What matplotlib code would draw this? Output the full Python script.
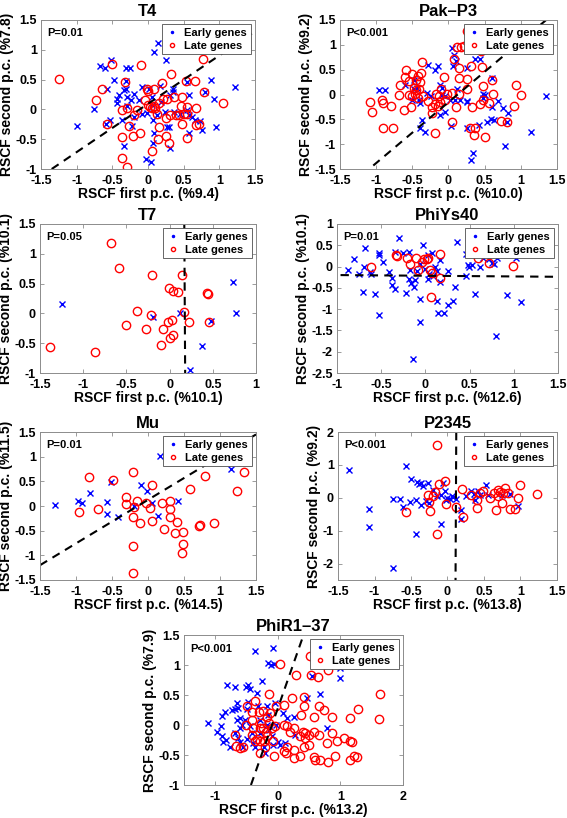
#%% Import packages
import matplotlib
matplotlib.use('Agg')
from matplotlib import pyplot as plt
from matplotlib.lines import Line2D
from matplotlib.ticker import FuncFormatter

plt.rcParams['font.family'] = ['Liberation Sans', 'DejaVu Sans']
plt.rcParams['font.weight'] = 'bold'
plt.rcParams['axes.unicode_minus'] = False

#%% Data
# T4
t4_early_x = [0.14, 0.08, 0.25, -0.67, -0.6, -0.52, -0.31, -0.25, -0.47, -0.31, -0.57, -0.31, -0.33, -0.41, -0.43,
              -0.43, -0.30, -0.19, -0.24, -0.08, 0.02, 0.17, 0.35, 0.35, 0.55, 0.89, 1.22, 0.57, 0.80, 0.92, -0.76,
              -0.99, -0.59, -0.53, -0.37, -0.29, -0.12, -0.09, -0.02, 0.05, 0.05, 0.07, 0.12, 0.24, 0.26, 0.29, 0.36,
              0.45, 0.54, 0.58, 0.61, 0.66, 0.73, 0.75, 0.96, 0.57, 0.08, 0.07, 0.31, -0.34, -0.03, 0.04, -0.23,
              -0.20, 0.18, 0.31]
t4_early_y = [1.12, 0.97, 0.83, 0.73, 0.69, 0.83, 0.69, 0.70, 0.49, 0.47, 0.35, 0.35, 0.32, 0.24, 0.17,
              0.10, 0.21, 0.26, 0.15, 0.38, 0.35, 0.39, 0.34, 0.30, 0.46, 0.49, 0.38, 0.24, 0.30, 0.17, 0.0,
              -0.28, -0.24, -0.18, -0.18, 0.06, 0.16, -0.07, -0.06, 0.20, 0.07, -0.18, -0.10, -0.04, -0.29, -0.29, -0.04,
              -0.07, -0.01, -0.10, -0.13, -0.18, -0.19, -0.34, -0.29, -0.40, -0.40, -0.57, -0.64, -0.61, -0.84, -0.89, -0.28,
              -0.13, 0.13, 0.24]
t4_late_x = [-1.25, -0.51, -0.10, 0.77, -0.64, -0.73, -0.32, 0.32, 0.19, 0.53, 0.66, 0.79, 1.05, -0.02, 0.0,
             0.08, -0.30, -0.37, -0.20, -0.16, -0.04, 0.0, 0.03, 0.05, 0.08, 0.10, 0.15, 0.21, 0.26, 0.36,
             0.47, 0.12, 0.25, 0.31, 0.39, 0.44, 0.50, 0.54, 0.46, 0.54, 0.67, 0.47, 0.67, 0.71, -0.57,
             -0.27, -0.37, -0.21, -0.11, 0.15, 0.14, 0.25, 0.30, 0.54, -0.37, -0.29, 0.05]
t4_late_y = [0.51, 0.76, 0.74, 0.84, 0.34, 0.16, 0.46, 0.59, 0.44, 0.48, 0.48, 0.29, 0.11, 0.35, 0.31,
             0.34, 0.02, -0.01, -0.10, -0.01, 0.16, 0.07, 0.04, 0.03, 0.06, 0.03, 0.10, 0.17, 0.17, 0.20,
             0.21, -0.08, -0.15, -0.10, -0.10, -0.10, -0.08, -0.08, 0.06, 0.04, 0.02, -0.25, -0.26, -0.25, -0.24,
             -0.28, -0.46, -0.44, -0.39, -0.29, -0.49, -0.45, -0.57, -0.48, -0.82, -0.97, -0.69]
t4_line = ([-1.35, 1.5], [-1.0, 1.31])

# Pak-P3
pak_early_x = [0.05, 0.08, 0.11, 0.36, 0.43, 0.60, 0.06, 0.12, 0.25, -0.29, -0.14, -0.18, -0.48, -0.60, -0.44,
               -0.48, -0.96, -0.88, -0.30, -0.12, -0.09, -0.09, -0.51, -0.41, -0.39, -0.24, -0.05, 0.02, -0.12,
               -0.05, 0.09, 0.16, 0.25, 0.26, 0.48, 0.48, 0.50, 0.60, 0.68, 0.75, 0.82, 0.53, 0.59, 0.63, 0.81,
               -0.36, -0.39, -0.33, 0.04, 0.25, 0.42, 0.78, 1.14, 1.35, 0.34, 0.31]
pak_early_y = [0.94, 0.80, 0.67, 0.71, 0.71, 0.34, 0.57, 0.12, 0.53, 0.59, 0.58, 0.49, 0.29, 0.19, 0.14,
               0.12, 0.09, 0.09, 0.04, 0.19, 0.14, -0.01, -0.11, -0.11, -0.18, -0.04, -0.04, -0.11, -0.41,
               -0.35, -0.11, -0.11, -0.14, -0.16, 0.02, -0.08, -0.02, -0.26, -0.14, -0.28, -0.38, -0.56, -0.50, -0.51, -0.55,
               -0.51, -0.68, -0.76, -0.63, -0.67, -0.61, -1.03, -0.75, -0.03, -1.18, -1.32]
pak_late_x = [0.25, 0.12, 0.17, 0.21, 0.45, 0.07, -0.36, 0.14, 0.31, 0.47, -0.59, -0.51, -0.38, -0.60, -0.55,
              -0.45, -0.42, -0.40, -0.06, 0.14, 0.26, -0.67, -0.48, -0.45, -0.41, -0.11, 0.48, 0.60, 0.93,
              0.25, -0.68, -0.55, -0.51, -0.46, -0.42, -0.35, -0.17, -0.13, -0.02, 0.05, 0.15, 0.62, 1.0,
              -1.08, -1.06, -0.92, -0.90, -0.79, -0.62, -0.52, -0.28, -0.23, -0.19, -0.15, -0.12, -0.05, -0.23,
              0.10, 0.32, 0.43, 0.48, 0.56, 0.73, 0.81, 0.90, -0.90, -0.77, -0.18, 0.05, 0.30, 0.37, 0.35, 0.50]
pak_late_y = [1.27, 0.96, 0.95, 0.97, 0.88, 0.71, 0.65, 0.53, 0.58, 0.56, 0.49, 0.41, 0.44, 0.35, 0.27,
              0.29, 0.37, 0.26, 0.35, 0.34, 0.31, 0.19, 0.14, 0.09, 0.12, 0.12, 0.17, 0.29, 0.19,
              0.12, 0.0, 0.0, -0.04, 0.02, -0.08, -0.04, 0.01, -0.04, 0.01, 0.04, 0.02, 0.02, -0.01,
              -0.16, -0.36, -0.11, -0.18, -0.23, -0.31, -0.25, -0.14, -0.25, -0.20, -0.23, -0.16, -0.11, -0.38,
              -0.25, -0.26, -0.20, -0.12, -0.18, -0.53, -0.56, -0.23, -0.67, -0.68, -0.78, -0.55, -0.68, -0.68, -0.81, -0.85]
pak_line = ([-1.04, 1.35], [-1.43, 1.5])

# T7
t7_early_x = [-1.25, -0.19, 0.12, 0.73, 0.77, 0.48, 0.38, 0.24]
t7_early_y = [0.16, -0.06, 0.01, 0.52, 0.01, -0.13, -0.54, -0.95]
t7_late_x = [-1.39, -0.86, -0.68, -0.59, -0.20, -0.38, -0.51, -0.27, -0.22, -0.10, -0.08, -0.01, 0.04, 0.10,
             -0.02, 0.03, 0.04, 0.0, 0.14, 0.17, 0.22, 0.43, 0.44, 0.46]
t7_late_y = [-0.56, -0.65, 1.18, 0.77, 0.65, 0.04, -0.19, -0.26, -0.03, -0.53, -0.27, 0.43, 0.37, 0.36,
             -0.14, -0.11, -0.37, -0.41, 0.64, 0.03, -0.14, 0.34, 0.32, -0.14]
t7_line = ([0.17, 0.18], [1.5, -1.0])

# PhiYs40
ys_early_x = [-0.88, -0.81, -0.68, -0.70, -0.75, -0.63, -0.61, -0.71, -0.57, -0.53, -0.52, -0.48, -0.53, -0.30,
              -0.34, -0.25, -0.41, -0.38, -0.38, -0.34, -0.22, -0.19, -0.16, -0.13, -0.12, -0.17, -0.06, -0.06,
              -0.14, -0.03, -0.06, -0.09, 0.0, 0.03, 0.04, 0.09, 0.11, 0.13, 0.16, 0.16, 0.13, 0.14, 0.21, 0.25,
              0.26, 0.31, 0.34, 0.36, 0.46, 0.46, 0.48, 0.49, 0.53, 0.49, 0.56, 0.62, 0.65, 0.72, 0.75, 0.78,
              0.81, 0.80, 0.92, 1.02, 1.08, 0.03, 0.08, -0.19, 0.58]
ys_early_y = [-0.09, 0.17, 0.43, -0.02, -0.17, -0.12, -0.17, -0.59, -0.64, -1.13, 0.31, 0.11, 0.28, 0.67,
              0.35, 0.31, -0.13, -0.26, -0.44, -0.52, -0.63, -0.30, -0.38, -0.47, -0.32, -0.08, -0.76, -1.30,
              -2.17, 0.50, 0.06, -0.10, -0.06, -0.30, -0.18, -0.22, -0.02, -0.10, 0.16, -0.36, -0.81, -1.10, -1.09, -0.91,
              -0.10, -0.80, -0.47, 0.57, -0.22, 0.29, 0.04, 0.65, 0.03, -0.02, -0.64, 0.0, 0.21, 0.17, 0.08, 0.06,
              0.21, -1.64, -0.67, 0.20, -0.83, 0.27, 0.33, 0.35, 0.46]
ys_late_x = [-0.62, -0.33, -0.32, -0.21, -0.17, -0.11, -0.08, -0.04, -0.02, 0.02, 0.03, 0.05, 0.07, 0.16,
             0.16, 0.06, 0.60, 0.72, 0.99]
ys_late_y = [-0.02, 0.27, 0.24, 0.21, 0.06, 0.20, -0.09, 0.11, 0.17, 0.17, 0.21, -0.08, -0.16, 0.29,
             -0.28, -0.71, 0.19, 0.09, 0.02]
ys_line = ([-0.96, 1.5], [-0.20, -0.24])

# Mu
mu_early_x = [-1.29, -0.97, -0.92, -0.81, -0.57, -0.57, -0.51, -0.41, -0.19, -0.10, -0.02, 0.06, 0.14, 0.17,
              0.41, 1.15]
mu_early_y = [0.03, 0.10, 0.07, 0.27, 0.08, -0.16, 0.48, -0.22, 0.0, 0.43, 0.30, 0.06, -0.21, 1.01,
              0.10, 0.76]
mu_late_x = [-0.96, -0.82, -0.69, -0.48, -0.30, -0.30, -0.21, -0.20, -0.21, -0.21, -0.21, -0.15, -0.11, -0.03,
             0.03, 0.05, 0.05, 0.19, 0.22, 0.30, 0.31, 0.30, 0.40, 0.38, 0.49, 0.49, 0.47, 0.58, 0.72, 0.71,
             0.79, 0.92, 1.23, 1.33]
mu_late_y = [-0.12, 0.58, -0.06, 0.52, 0.19, 0.04, 0.69, -0.03, -0.22, -0.81, -1.35, 0.10, -0.34, 0.07,
             -0.04, 0.42, -0.31, 0.06, -0.47, 0.10, -0.07, -0.23, -0.33, -0.54, -0.52, -0.77, -0.96, 0.34, -0.39, -0.41,
             0.60, -0.35, 0.31, 0.68]
mu_line = ([-1.5, 1.5], [-1.2, 1.45])

# P2345
p23_early_x = [-1.35, -1.08, -1.08, -0.74, -0.74, -0.65, -0.61, -0.57, -0.50, -0.52, -0.43, -0.43, -0.42, -0.39,
               -0.36, -0.34, -0.27, -0.36, -0.29, -0.25, -0.20, -0.14, -0.09, -0.09, -0.06, -0.03, -0.02, 0.0,
               0.04, 0.06, 0.08, 0.11, 0.18, 0.19, 0.25, 0.32, 0.36, 0.38, 0.42, 0.45, 0.53, 0.55, 0.75, 0.85, 0.96]
p23_early_y = [0.85, -0.34, -0.89, -2.14, -0.04, -0.03, -0.28, 0.98, 0.58, -0.14, -0.06, -1.10, 0.47, 0.43,
               0.45, 0.37, 0.45, -0.21, -0.09, -0.16, 0.24, 0.06, -0.79, 0.09, 0.45, 0.22, -0.08, -0.01,
               -0.03, 0.04, 0.01, -0.03, -0.37, -0.65, 0.04, 0.22, 0.11, -0.06, 0.22, 0.09, 0.38, 0.09, 0.09, 0.12, -0.24]
p23_late_x = [-0.14, -0.03, -0.11, -0.17, -0.20, -0.27, -0.25, -0.24, -0.57, -0.15, -0.02, 0.11, 0.20, 0.21,
              0.32, 0.41, 0.41, 0.44, 0.49, 0.58, 0.64, 0.69, 0.69, 0.72, 0.76, 0.79, 0.83, 0.85, 0.93, 0.97,
              0.99, 0.75, 0.67, 1.22]
p23_late_y = [1.60, 0.50, 0.43, 0.17, 0.06, 0.09, -0.14, -0.39, -0.42, -1.11, -0.18, -0.28, 0.27, -0.57,
              0.09, -0.06, -0.32, 0.16, 0.22, -0.01, 0.14, 0.06, 0.24, 0.19, 0.14, 0.29, 0.16, -0.35, -0.34, -0.01,
              0.40, -0.16, -0.37, 0.12]
p23_line = ([0.12, 0.11], [2.0, -2.5])

# PhiR1-37
phr_early_x = [-1.11, -0.89, -0.85, -0.82, -0.69, -0.91, -0.98, -0.89, -0.83, -0.88, -0.77, -0.68, -0.65, -0.64,
               -0.61, -0.61, -0.58, -0.64, -0.60, -0.56, -0.51, -0.47, -0.44, -0.49, -0.48, -0.52, -0.45, -0.42,
               -0.50, -0.40, -0.37, -0.37, -0.34, -0.32, -0.29, -0.29, -0.25, -0.22, -0.21, -0.18, -0.16, -0.11,
               -0.15, -0.18, -0.14, -0.10, -0.07, -0.06, -0.05, -0.07, -0.03, 0.0, 0.03, 0.11, 0.09, 0.14, 0.26,
               0.28, 0.47, 0.54, 0.68, 0.79, 0.99, 1.0, -0.69, -0.74, -0.66]
phr_early_y = [0.03, 0.15, 0.22, 0.67, 0.63, -0.02, -0.11, -0.19, -0.25, -0.28, -0.36, 0.27, 0.37, 0.28,
               0.11, -0.05, 0.0, -0.22, -0.29, -0.36, 0.63, 0.67, 0.60, 0.26, 0.39, 0.09, -0.02, -0.13,
               -0.24, -0.30, -0.36, 1.23, 0.53, 0.31, 0.09, -0.13, 0.73, -0.36, -0.47, 0.0, 1.04, 1.0,
               0.17, 0.31, -0.08, -0.19, 1.29, 1.01, 0.37, -0.33, 0.0, -0.28, -0.33, -0.30, 0.20, 0.11, 0.14,
               -0.16, 0.45, 0.82, 0.51, -0.05, 0.95, 0.79, -0.14, 0.25, 0.09]
phr_late_x = [0.03, 0.29, 0.51, 0.53, 0.64, 0.80, 1.63, 1.61, 1.28, 1.16, 0.87, -0.14, -0.36, -0.49, 0.22,
              0.41, 0.42, 0.10, -0.03, 0.65, 0.73, 0.37, 0.57, -0.41, -0.30, -0.23, -0.12, -0.41, -0.27, -0.24,
              -0.14, -0.05, 0.10, 0.14, 0.20, 0.25, 0.40, 0.44, 0.49, 0.57, 0.65, 0.87, 0.36, 0.43, 0.49, 0.41,
              0.79, 0.95, 1.05, 1.16, 1.18, 1.22, 0.92, 1.16, 1.26, 0.57, 0.60, 0.68, 0.80, 0.36, 0.25, 0.25,
              0.14, 0.10, 0.13, -0.06, -0.21, -0.28, -0.68, -0.67, -0.61, -0.56, -0.42, -0.37, -0.34, -0.29,
              -0.22, -0.18, -0.07, -0.10, -0.19, -0.29, -0.40, -0.18, -0.51]
phr_late_y = [1.01, 0.84, 1.15, 0.84, 0.80, 0.91, 0.52, 0.10, 0.27, 0.11, 0.14, 0.51, 0.40, 0.31, 0.45,
              0.46, 0.31, 0.34, 0.31, 0.31, 0.25, 0.17, 0.14, 0.21, 0.21, 0.24, 0.20, 0.09, 0.03, -0.05,
              0.03, -0.01, 0.0, -0.02, -0.11, -0.05, -0.11, -0.14, -0.16, -0.11, -0.16, -0.14, -0.19, -0.22, -0.33, -0.36,
              -0.30, -0.27, -0.22, -0.26, -0.29, -0.51, -0.51, -0.59, -0.53, -0.53, -0.58, -0.58, -0.62, -0.52, -0.55, -0.42,
              -0.36, -0.44, -0.46, -0.52, -0.36, -0.46, -0.16, -0.35, -0.38, -0.36, -0.16, -0.27, -0.24, -0.27,
              -0.27, -0.19, -0.26, -0.05, -0.11, -0.05, -0.05, 0.14, 0.0]
phr_line = ([-0.43, 0.41], [-1.0, 1.5])

#%% Panel settings: name, data, p-value, limits, ticks, axis labels, position (px: left, top, right, bottom)
panels = [
    ('T4', t4_early_x, t4_early_y, t4_late_x, t4_late_y, t4_line, 'P=0.01',
     (-1.5, 1.5), (-1, 1.5), [-1.5, -1, -0.5, 0, 0.5, 1, 1.5], [-1, -0.5, 0, 0.5, 1, 1.5],
     '9.4', '7.8', (41, 20, 255, 169)),
    ('Pak\u2013P3', pak_early_x, pak_early_y, pak_late_x, pak_late_y, pak_line, 'P<0.001',
     (-1.5, 1.5), (-1.5, 1.5), [-1.5, -1, -0.5, 0, 0.5, 1, 1.5], [-1.5, -1, -0.5, 0, 0.5, 1, 1.5],
     '10.0', '9.2', (340, 20, 557, 169)),
    ('T7', t7_early_x, t7_early_y, t7_late_x, t7_late_y, t7_line, 'P=0.05',
     (-1.5, 1), (-1, 1.5), [-1.5, -1, -0.5, 0, 0.5, 1], [-1, -0.5, 0, 0.5, 1, 1.5],
     '10.1', '10.1', (40, 224, 256, 373)),
    ('PhiYs40', ys_early_x, ys_early_y, ys_late_x, ys_late_y, ys_line, 'P=0.01',
     (-1, 1.5), (-2.5, 1), [-1, -0.5, 0, 0.5, 1, 1.5], [-2.5, -2, -1.5, -1, -0.5, 0, 0.5, 1],
     '12.6', '10.1', (337, 224, 558, 373)),
    ('Mu', mu_early_x, mu_early_y, mu_late_x, mu_late_y, mu_line, 'P=0.01',
     (-1.5, 1.5), (-1.5, 1.5), [-1.5, -1, -0.5, 0, 0.5, 1, 1.5], [-1.5, -1, -0.5, 0, 0.5, 1, 1.5],
     '14.5', '11.5', (40, 432, 256, 580)),
    ('P2345', p23_early_x, p23_early_y, p23_late_x, p23_late_y, p23_line, 'P<0.001',
     (-1.5, 1.5), (-2.5, 2), [-1.5, -1, -0.5, 0, 0.5, 1, 1.5], [-2, -1, 0, 1, 2],
     '13.8', '9.2', (338, 432, 557, 580)),
    ('PhiR1\u201337', phr_early_x, phr_early_y, phr_late_x, phr_late_y, phr_line, 'P<0.001',
     (-1.5, 2), (-1, 1.5), [-1, 0, 1, 2], [-1, -0.5, 0, 0.5, 1, 1.5],
     '13.2', '7.9', (184, 635, 403, 785)),
]

#%% Make Plots
W, H = 567, 818
fig = plt.figure(figsize=(W / 100, H / 100), dpi=100)
fmt = FuncFormatter(lambda v, p: '%g' % v)

for (name, ex, ey, lx, ly, line, ptxt, xlim, ylim, xt, yt, xpc, ypc, pos) in panels:
    l, t, r, b = pos
    ax = fig.add_axes([l / W, 1 - b / H, (r - l) / W, (b - t) / H])
    ax.plot(ex, ey, 'x', color='blue', markersize=3.8, markeredgewidth=1.0, linestyle='none')
    ax.plot(lx, ly, 'o', color='red', markerfacecolor='none', markersize=6, markeredgewidth=1.0, linestyle='none')
    ax.plot(line[0], line[1], '--', color='black', linewidth=1.5, dashes=(4, 3))
    ax.set_xlim(xlim)
    ax.set_ylim(ylim)
    ax.set_xticks(xt)
    ax.set_yticks(yt)
    ax.xaxis.set_major_formatter(fmt)
    ax.yaxis.set_major_formatter(fmt)
    ax.tick_params(direction='in', length=3, width=0.6, labelsize=9, top=True, right=True,
                   colors='0.55', labelcolor='black')
    ax.tick_params(axis='x', pad=4.5)
    ax.tick_params(axis='y', pad=3)
    for lab in ax.get_xticklabels() + ax.get_yticklabels():
        lab.set_fontweight('bold')
    for sp in ax.spines.values():
        sp.set_color('0.55')
        sp.set_linewidth(0.7)
    ax.set_title(name, fontsize=12, fontweight='bold', pad=3)
    ax.set_xlabel('RSCF first p.c. (%' + xpc + ')', fontsize=10, fontweight='bold', labelpad=0)
    ax.set_ylabel('RSCF second p.c. (%' + ypc + ')', fontsize=10, fontweight='bold', labelpad=1)
    ax.text(0.03, 0.91, ptxt, transform=ax.transAxes, fontsize=8, fontweight='bold', va='center')
    handles = [Line2D([], [], marker='.', color='blue', linestyle='none', markersize=3),
               Line2D([], [], marker='o', color='red', markerfacecolor='none', linestyle='none', markersize=3)]
    leg = ax.legend(handles, ['Early genes', 'Late genes'], loc='upper right',
                    prop={'weight': 'bold', 'size': 8}, fancybox=False, framealpha=1, edgecolor='0.3',
                    borderpad=0.3, labelspacing=0.25, handlelength=1.2, handletextpad=0.5, borderaxespad=0.4)
    leg.get_frame().set_linewidth(0.6)

plt.savefig('out.png', dpi=100)
